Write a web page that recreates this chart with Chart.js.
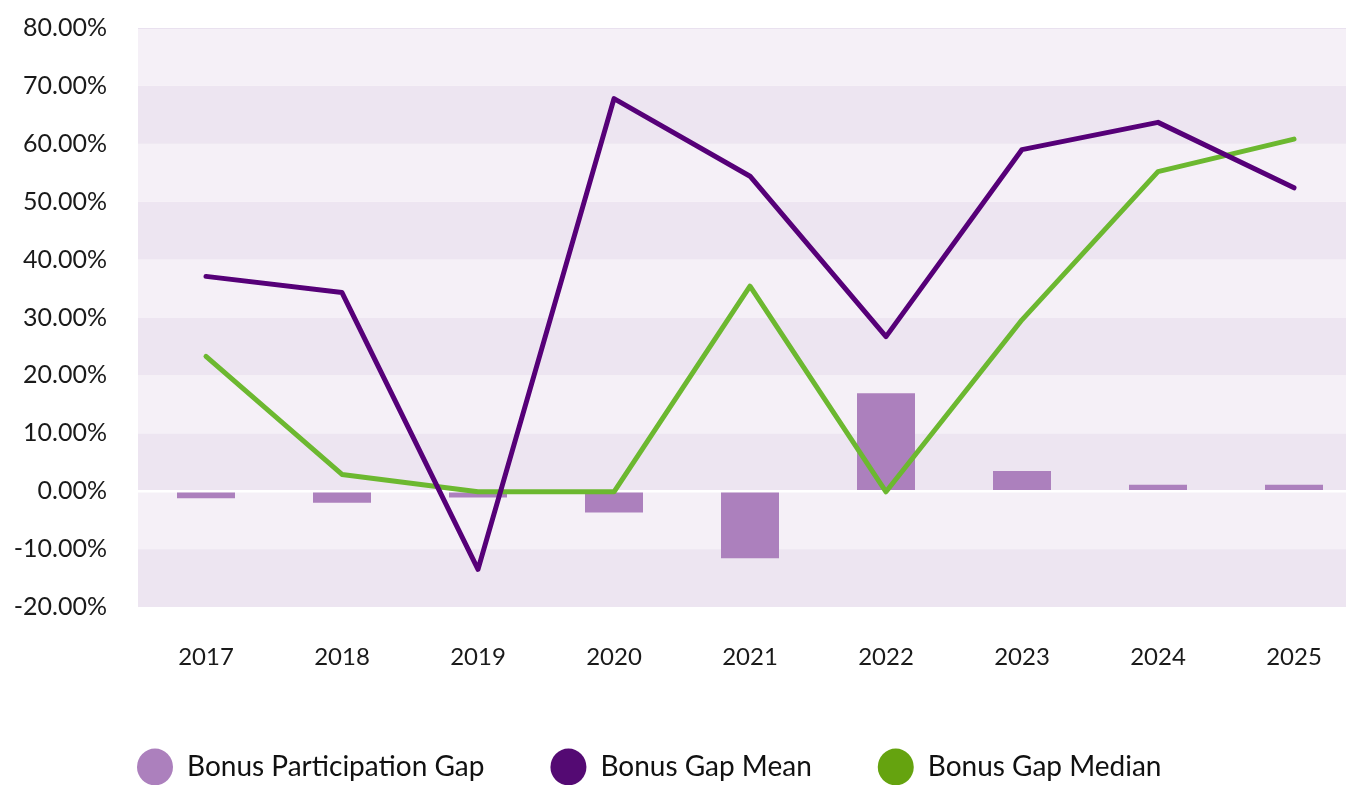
<!DOCTYPE html>
<html>
<head>
<meta charset="utf-8">
<script src="https://cdn.jsdelivr.net/npm/chart.js@4"></script>
<style>
  html, body { margin: 0; padding: 0; background: #ffffff; overflow: hidden; }
  #wrap { position: relative; width: 1362px; height: 791px; }
</style>
</head>
<body>
<div id="wrap"><canvas id="c"></canvas></div>
<script>
const categories = ['2017', '2018', '2019', '2020', '2021', '2022', '2023', '2024', '2025'];
const participationGap = [-1.2, -2.0, -1.1, -3.7, -11.6, 16.9, 3.5, 1.1, 1.1];
const gapMean = [37.1, 34.3, -13.5, 67.8, 54.4, 26.7, 59.0, 63.7, 52.4];
const gapMedian = [23.3, 2.9, -0.1, -0.1, 35.4, -0.1, 29.6, 55.2, 60.8];
const yTickMin = -20;
const yTickMax = 80;
const yTickStep = 10;

const seriesNames = ['Bonus Participation Gap', 'Bonus Gap Mean', 'Bonus Gap Median'];
const barColor = '#ac80bd';
const meanLine = '#560078';
const medianLine = '#6cb830';
const legendColors = ['#ac80bd', '#540a73', '#65a30f'];

const bandPlugin = {
  id: 'bands',
  beforeDraw(chart) {
    const { ctx, chartArea, scales } = chart;
    const y = scales.y;
    const ticks = y.ticks.map(t => t.value);
    ctx.save();
    for (let i = 0; i < ticks.length - 1; i++) {
      const a = y.getPixelForValue(ticks[i]);
      const b = y.getPixelForValue(ticks[i + 1]);
      ctx.fillStyle = (i % 2 === 0) ? '#ede5f1' : '#f5f0f7';
      ctx.fillRect(chartArea.left, Math.min(a, b), chartArea.right - chartArea.left, Math.abs(a - b));
    }
    ctx.restore();
  }
};

const legendShift = {
  id: 'legendShift',
  afterLayout(chart) {
    if (chart.legend) {
      chart.legend.left = 71;
    }
  }
};

Chart.defaults.font.family = 'Lato, "Noto Sans", sans-serif';
Chart.defaults.color = '#1a1a1a';

new Chart(document.getElementById('c'), {
  data: {
    labels: categories,
    datasets: [
      {
        type: 'bar',
        label: seriesNames[0],
        data: participationGap,
        backgroundColor: barColor,
        borderWidth: 0,
        categoryPercentage: 1,
        barPercentage: 0.4265,
        order: 3
      },
      {
        type: 'line',
        label: seriesNames[1],
        data: gapMean,
        borderColor: meanLine,
        backgroundColor: legendColors[1],
        borderWidth: 5,
        pointRadius: 0,
        tension: 0,
        borderCapStyle: 'round',
        borderJoinStyle: 'round',
        order: 1
      },
      {
        type: 'line',
        label: seriesNames[2],
        data: gapMedian,
        borderColor: medianLine,
        backgroundColor: legendColors[2],
        borderWidth: 5,
        pointRadius: 0,
        tension: 0,
        borderCapStyle: 'round',
        borderJoinStyle: 'round',
        order: 2
      }
    ]
  },
  options: {
    responsive: true,
    maintainAspectRatio: false,
    animation: false,
    layout: { padding: { top: 28, right: 0, bottom: 0, left: 0 } },
    plugins: {
      tooltip: { enabled: false },
      legend: {
        position: 'bottom',
        align: 'start',
        labels: {
          usePointStyle: true,
          pointStyle: 'circle',
          boxHeight: 26,
          pointStyleWidth: 36,
          padding: 66,
          color: '#111111',
          font: { size: 28 },
          sort: (a, b) => a.datasetIndex - b.datasetIndex,
          generateLabels(chart) {
            const items = Chart.defaults.plugins.legend.labels.generateLabels(chart);
            items.forEach(it => {
              it.fillStyle = legendColors[it.datasetIndex];
              it.strokeStyle = legendColors[it.datasetIndex];
              it.lineWidth = 0;
              it.pointStyle = 'circle';
            });
            return items;
          }
        }
      }
    },
    scales: {
      x: {
        offset: true,
        grid: { display: false, drawTicks: false },
        border: { display: false },
        ticks: { padding: 36, font: { size: 24 }, color: '#1a1a1a', maxRotation: 0 },
        afterFit(scale) { scale.height = 80; }
      },
      y: {
        min: yTickMin,
        max: yTickMax,
        ticks: {
          stepSize: yTickStep,
          padding: 31,
          font: { size: 25 },
          color: '#1a1a1a',
          callback: v => v.toFixed(2) + '%'
        },
        grid: {
          drawTicks: false,
          color: ctx => {
            if (ctx.tick && ctx.tick.value === 0) return '#ffffff';
            if (ctx.tick && ctx.tick.value === yTickMax) return '#e9e1ef';
            return 'rgba(0,0,0,0)';
          },
          lineWidth: ctx => (ctx.tick && ctx.tick.value === 0) ? 2.5 : 1
        },
        border: { display: false },
        afterFit(scale) {
          scale.width = 138;
          scale.paddingTop = 0;
          scale.paddingBottom = 0;
        }
      }
    }
  },
  plugins: [bandPlugin, legendShift]
});
</script>
</body>
</html>
